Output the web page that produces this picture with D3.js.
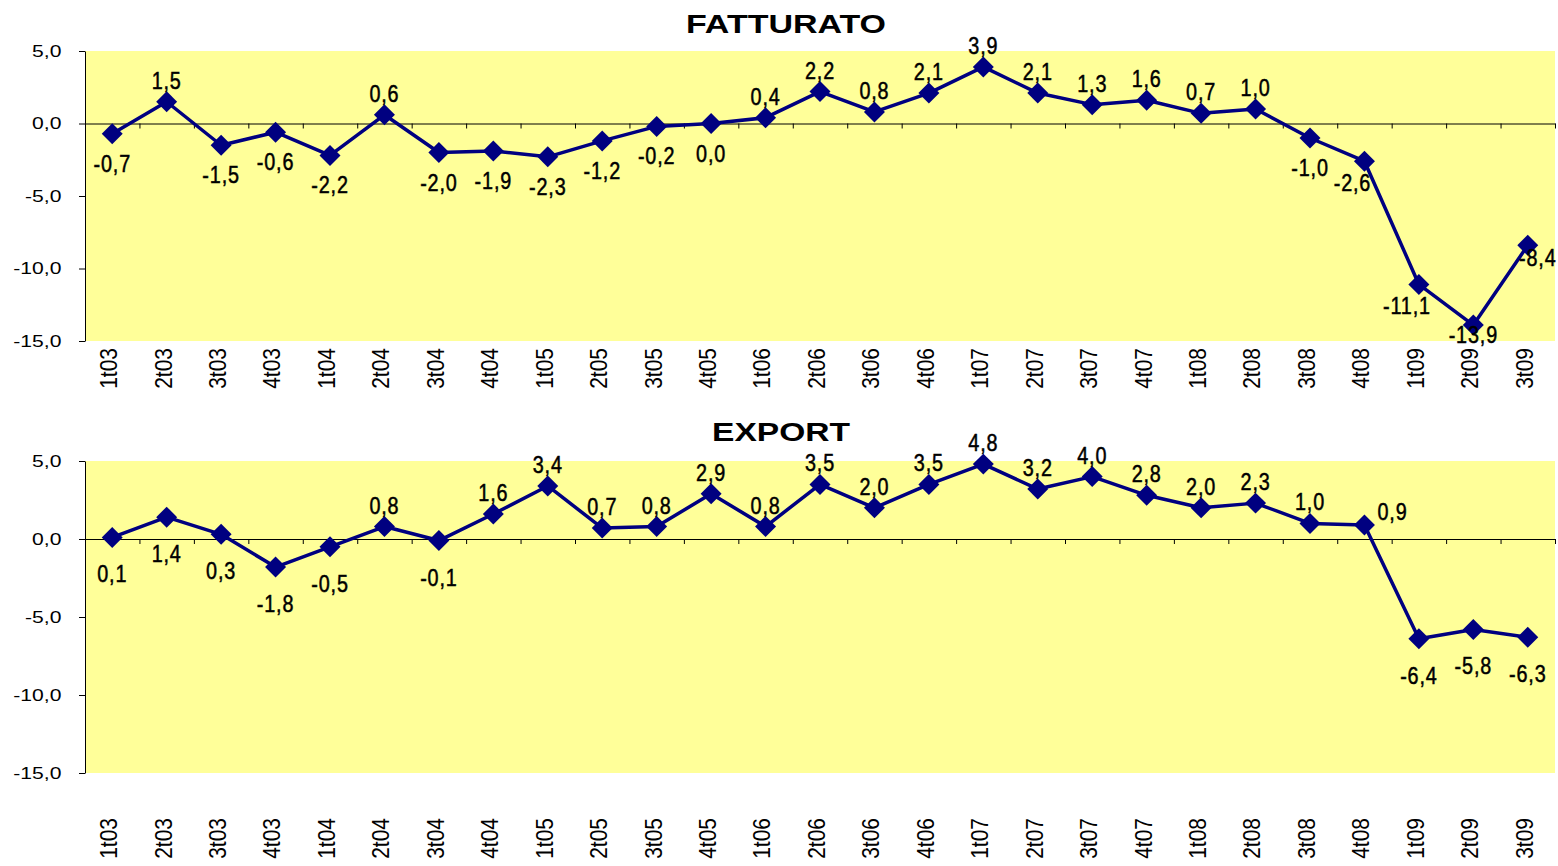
<!DOCTYPE html>
<html lang="it">
<head>
<meta charset="UTF-8" />
<title>Fatturato ed export</title>
<script src="https://d3js.org/d3.v7.min.js"></script>
<style>
  body { margin: 0; background: #fff; }
  svg text { font-family: "Liberation Sans", Arial, sans-serif; fill: #000; }
  .axis .domain, .axis line { stroke: #000; }
</style>
</head>
<body>
<svg id="chart" width="1558" height="866"></svg>
<script>
const categories = ["1t03", "2t03", "3t03", "4t03", "1t04", "2t04", "3t04", "4t04", "1t05", "2t05",
  "3t05", "4t05", "1t06", "2t06", "3t06", "4t06", "1t07", "2t07", "3t07", "4t07", "1t08", "2t08",
  "3t08", "4t08", "1t09", "2t09", "3t09"];

const fatturato = [-0.7, 1.5, -1.5, -0.6, -2.2, 0.6, -2.0, -1.9, -2.3, -1.2, -0.2, 0.0, 0.4, 2.2,
  0.8, 2.1, 3.9, 2.1, 1.3, 1.6, 0.7, 1.0, -1.0, -2.6, -11.1, -13.9, -8.4];

const exportValues = [0.1, 1.4, 0.3, -1.8, -0.5, 0.8, -0.1, 1.6, 3.4, 0.7, 0.8, 2.9, 0.8, 3.5,
  2.0, 3.5, 4.8, 3.2, 4.0, 2.8, 2.0, 2.3, 1.0, 0.9, -6.4, -5.8, -6.3];

// where each data label sits relative to its marker
const fatturatoLabelPos = ["below", "above", "below", "below", "below", "above", "below", "below",
  "below", "below", "below", "below", "above", "above", "above", "above", "above", "above", "above",
  "above", "above", "above", "below", "belowLeft", "belowLeft", "belowClose", "belowRight"];

const exportLabelPos = ["below", "below", "below", "below", "below", "above", "below", "above",
  "above", "above", "above", "above", "above", "above", "above", "above", "above", "above", "above",
  "above", "above", "above", "above", "right", "below", "below", "below"];

const yTicks = [5, 0, -5, -10, -15];

const svg = d3.select("svg#chart");
const xLeft = 85;
const xRight = 1555;

const numberFormat = d3.formatLocale({
  decimal: ",", thousands: ".", grouping: [3], currency: ["", ""], minus: "-"
}).format(".1f");

const xScale = d3.scaleBand().domain(categories).range([xLeft, xRight]).padding(0);
const xCenter = (c) => xScale(c) + xScale.bandwidth() / 2;

function drawChart(cfg) {
  const yScale = d3.scaleLinear().domain([-15, 5]).range([cfg.bottom, cfg.top]);
  const g = svg.append("g");

  g.append("rect")
    .attr("x", xLeft)
    .attr("y", cfg.top)
    .attr("width", xRight - xLeft)
    .attr("height", cfg.bottom - cfg.top)
    .attr("fill", "#ffff99");

  g.append("text")
    .attr("x", cfg.titleX)
    .attr("y", cfg.titleY)
    .attr("text-anchor", "middle")
    .attr("font-size", 26)
    .attr("font-weight", "bold")
    .attr("textLength", cfg.titleWidth)
    .attr("lengthAdjust", "spacingAndGlyphs")
    .text(cfg.title);

  // y axis
  const leftAxis = d3.axisLeft(yScale).tickValues(yTicks).tickFormat(numberFormat)
    .tickSize(6).tickSizeOuter(0);
  const ya = g.append("g")
    .attr("class", "axis")
    .attr("transform", `translate(${xLeft},0)`)
    .call(leftAxis);
  ya.selectAll("text")
    .attr("font-size", 16.5)
    .attr("x", -18.4)
    .attr("transform", "scale(1.28,1)");

  // zero line with category tick marks
  const boundary = d3.scaleLinear().domain([0, categories.length]).range([xLeft, xRight]);
  const zeroAxis = d3.axisBottom(boundary)
    .tickValues(d3.range(1, categories.length + 1))
    .tickSize(5).tickSizeOuter(0).tickFormat("");
  g.append("g")
    .attr("class", "axis")
    .attr("transform", `translate(0,${yScale(0)})`)
    .call(zeroAxis);

  // category labels below the plot
  const bottomAxis = d3.axisBottom(xScale).tickSize(0).tickSizeOuter(0);
  const xa = g.append("g")
    .attr("transform", `translate(0,${cfg.labelY})`)
    .call(bottomAxis);
  xa.select(".domain").remove();
  xa.selectAll("text")
    .attr("transform", "rotate(-90) scale(1,1.12)")
    .attr("text-anchor", "end")
    .attr("x", 0)
    .attr("y", -3)
    .attr("dy", "0.35em")
    .attr("font-size", 21);

  // series
  const line = d3.line()
    .x((d, i) => xCenter(categories[i]))
    .y((d) => yScale(d));

  g.append("path")
    .datum(cfg.values)
    .attr("fill", "none")
    .attr("stroke", "#000080")
    .attr("stroke-width", 3.5)
    .attr("stroke-linejoin", "round")
    .attr("d", line);

  const diamond = d3.symbol(d3.symbolSquare, 220);
  g.selectAll("path.marker")
    .data(cfg.values)
    .join("path")
    .attr("class", "marker")
    .attr("d", diamond)
    .attr("fill", "#000080")
    .attr("transform", (d, i) => `translate(${xCenter(categories[i])},${yScale(d)}) rotate(45)`);

  const offsets = {
    above: { dx: 0, dy: -13, anchor: "middle" },
    below: { dx: 0, dy: cfg.belowDy, anchor: "middle" },
    belowLeft: { dx: -12, dy: 30, anchor: "middle" },
    belowClose: { dx: 0, dy: 18, anchor: "middle" },
    belowRight: { dx: 10, dy: 21, anchor: "middle" },
    right: { dx: 13, dy: -5, anchor: "start" }
  };

  g.selectAll("text.value")
    .data(cfg.values)
    .join("text")
    .attr("class", "value")
    .attr("transform", (d, i) => {
      const o = offsets[cfg.labelPos[i]];
      return `translate(${xCenter(categories[i]) + o.dx},${yScale(d) + o.dy}) scale(0.86,1)`;
    })
    .attr("text-anchor", (d, i) => offsets[cfg.labelPos[i]].anchor)
    .attr("font-size", 23)
    .attr("letter-spacing", 1)
    .attr("stroke", "#000")
    .attr("stroke-width", 0.5)
    .text((d) => numberFormat(d));
}

drawChart({
  title: "FATTURATO", titleX: 786, titleY: 33, titleWidth: 200,
  top: 51, bottom: 341, labelY: 348, belowDy: 38,
  values: fatturato, labelPos: fatturatoLabelPos
});

drawChart({
  title: "EXPORT", titleX: 781, titleY: 441, titleWidth: 138,
  top: 461, bottom: 773, labelY: 818, belowDy: 45,
  values: exportValues, labelPos: exportLabelPos
});
</script>
</body>
</html>
